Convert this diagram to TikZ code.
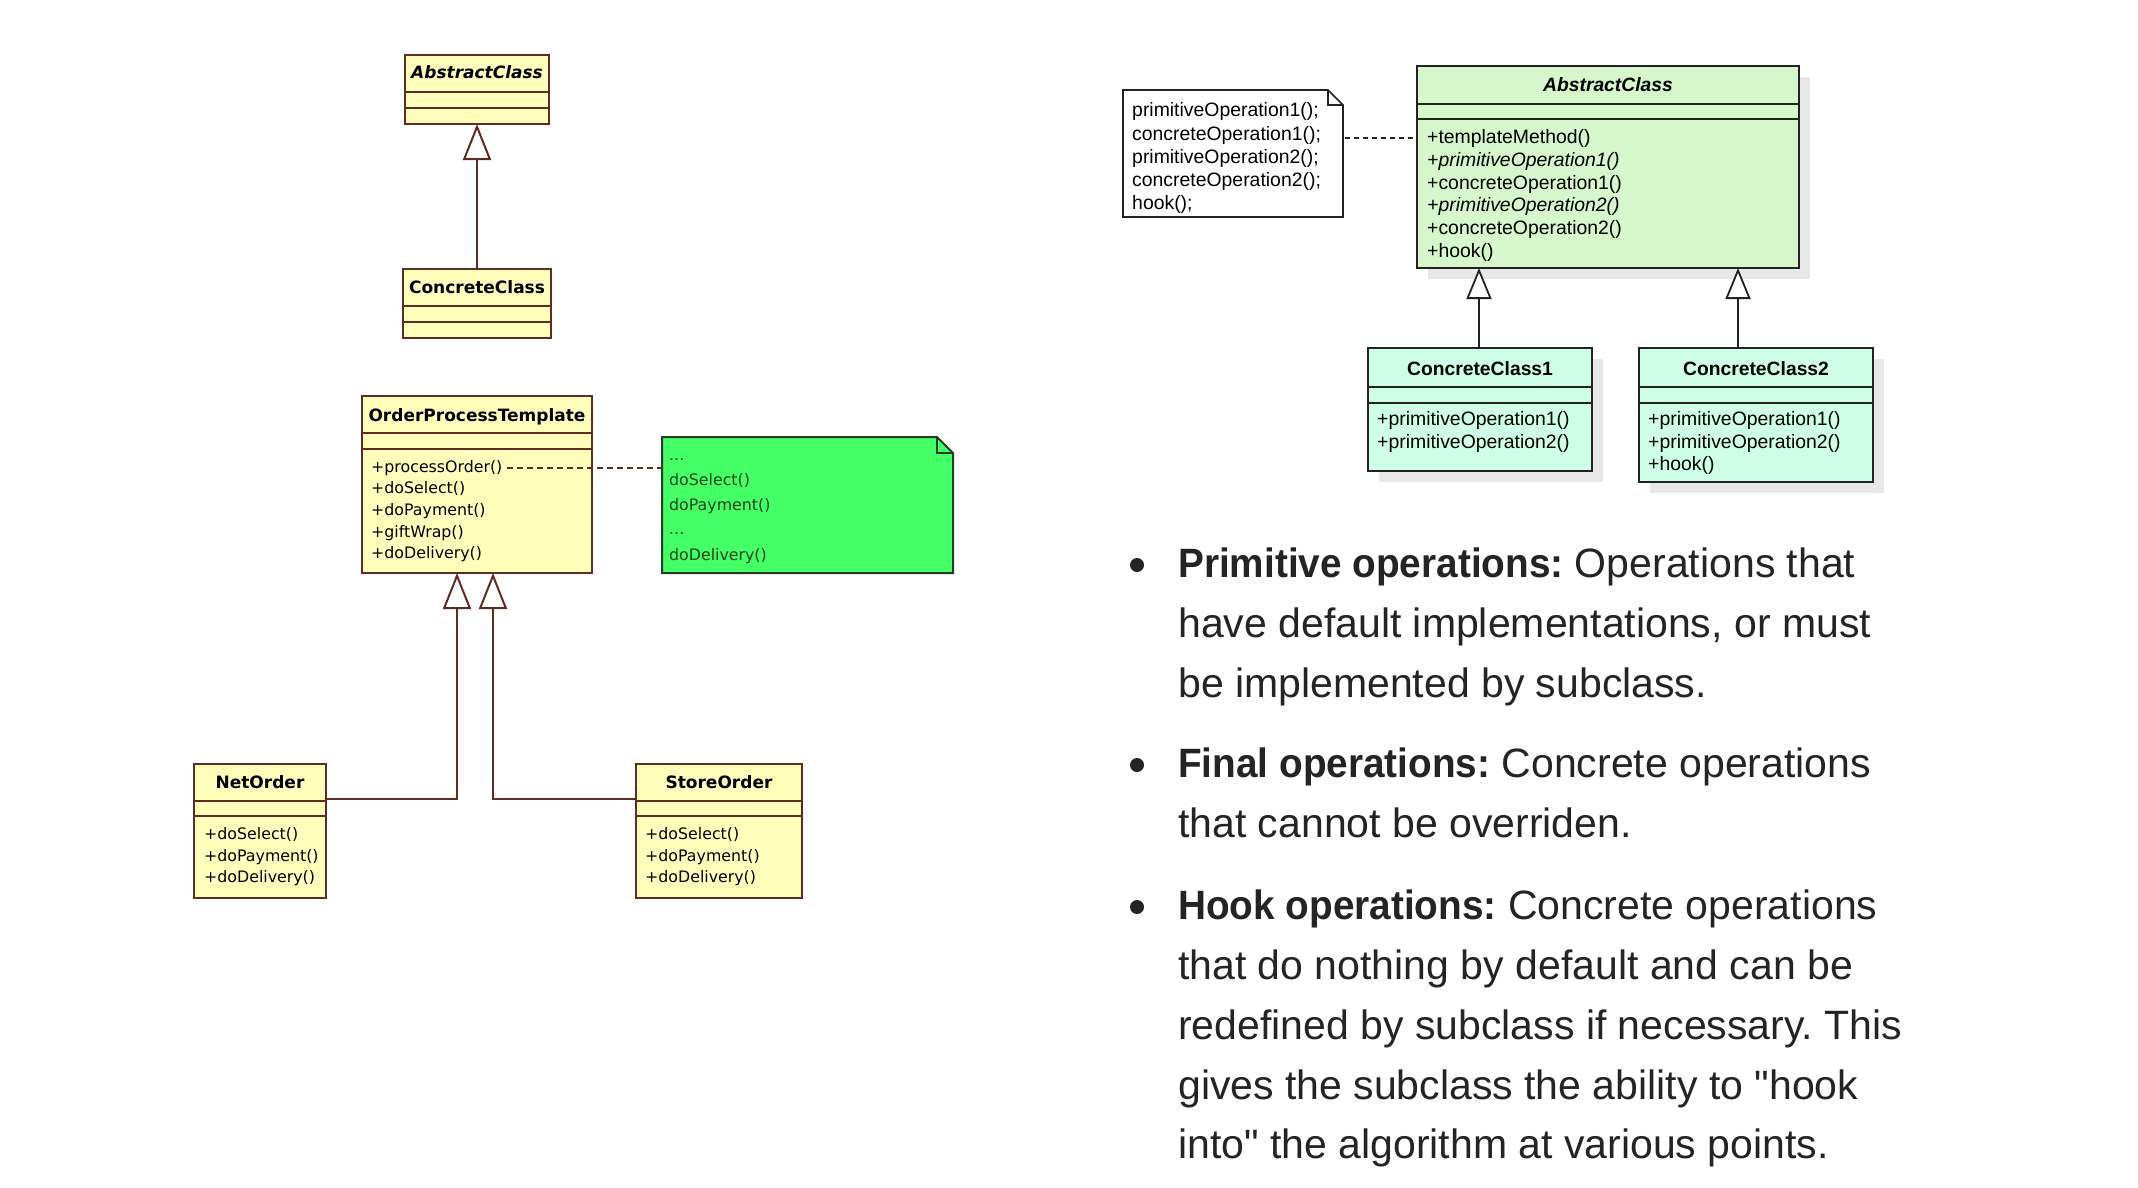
\documentclass[tikz,border=0pt]{standalone}
\usepackage{fontspec}
\usetikzlibrary{arrows.meta,calc,shadows}
\newfontfamily\tah{DejaVu Sans}
\newfontfamily\ari{Liberation Sans}
\newfontfamily\btext[BoldFeatures={FakeStretch=0.945}]{Liberation Sans}
\definecolor{lyel}{RGB}{255,255,187}
\definecolor{lbrd}{RGB}{96,44,36}
\definecolor{ngreen}{RGB}{68,255,102}
\definecolor{ntext}{RGB}{30,70,30}
\definecolor{nbrd}{RGB}{40,60,40}
\definecolor{acfill}{RGB}{214,247,204}
\definecolor{ccfill}{RGB}{206,255,230}
\definecolor{shd}{RGB}{232,232,232}
\definecolor{rbrd}{RGB}{34,34,34}
\definecolor{txt}{RGB}{36,36,36}
\begin{document}
\begin{tikzpicture}[x=1pt,y=-1pt,
  lcls/.style={draw=lbrd, fill=lyel, line width=2.2pt, anchor=north west, inner sep=0pt, outer sep=0pt},
  lsep/.style={draw=lbrd, line width=2pt},
  ltitle/.style={anchor=base, inner sep=0pt, font=\tah\bfseries\fontsize{17}{17}\selectfont, text=black},
  lmeth/.style={anchor=base west, inner sep=0pt, font=\tah\fontsize{15.8}{16}\selectfont, text=black},
  nmeth/.style={anchor=base west, inner sep=0pt, font=\tah\fontsize{15.8}{16}\selectfont, text=ntext},
  inhL/.style={draw=lbrd, line width=2pt, -{Triangle[fill=white, length=36pt, width=28pt, line width=2pt]}},
  dashL/.style={draw=lbrd, line width=1.8pt, dash pattern=on 6pt off 4pt},
  rcls/.style={draw=rbrd, line width=1.8pt, anchor=north west, inner sep=0pt, outer sep=0pt,
     drop shadow={shadow xshift=11pt, shadow yshift=-11pt, fill=shd, opacity=1}},
  rsep/.style={draw=rbrd, line width=1.6pt},
  rtitle/.style={anchor=base, inner sep=0pt, font=\ari\bfseries\fontsize{19.3}{19}\selectfont, text=black},
  rmeth/.style={anchor=base west, inner sep=0pt, font=\ari\fontsize{19.4}{19}\selectfont, text=black},
  inhR/.style={draw=rbrd, line width=1.8pt, -{Triangle[fill=white, length=31pt, width=25pt, line width=1.8pt]}},
  dashR/.style={draw=rbrd, line width=1.6pt, dash pattern=on 5pt off 4pt},
  bul/.style={circle, fill=txt, minimum size=14pt, inner sep=0pt},
  btxt/.style={anchor=base west, inner sep=0pt, font=\btext\fontsize{41}{41}\selectfont\frenchspacing, text=txt}
]
\useasboundingbox (0,0) rectangle (2138,1188);
\fill[white] (0,0) rectangle (2138,1188);

% ---------- left: AbstractClass / ConcreteClass ----------
\node[lcls, minimum width=144pt, minimum height=69pt] (abs) at (405,55) {};
\draw[lsep] ($(abs.north west)+(0,37)$) -- ($(abs.north east)+(0,37)$);
\draw[lsep] ($(abs.north west)+(0,53)$) -- ($(abs.north east)+(0,53)$);
\node[ltitle] (absT) at (477,79) {\itshape AbstractClass};

\node[lcls, minimum width=148pt, minimum height=69pt] (conc) at (403,269) {};
\draw[lsep] ($(conc.north west)+(0,37)$) -- ($(conc.north east)+(0,37)$);
\draw[lsep] ($(conc.north west)+(0,53)$) -- ($(conc.north east)+(0,53)$);
\node[ltitle] (concT) at (477,293) {ConcreteClass};

\draw[inhL] (conc.north) -- (abs.south);

% ---------- left: OrderProcessTemplate ----------
\node[lcls, minimum width=230pt, minimum height=177pt] (opt) at (362,396) {};
\draw[lsep] ($(opt.north west)+(0,37)$) -- ($(opt.north east)+(0,37)$);
\draw[lsep] ($(opt.north west)+(0,53)$) -- ($(opt.north east)+(0,53)$);
\node[ltitle] (optT) at (477,421) {OrderProcessTemplate};
\node[lmeth] (m1) at (371,472) {+processOrder()};
\node[lmeth] (m2) at (371,493) {+doSelect()};
\node[lmeth] (m3) at (371,515) {+doPayment()};
\node[lmeth] (m4) at (371,537) {+giftWrap()};
\node[lmeth] (m5) at (371,558) {+doDelivery()};

% green note
\node[inner sep=0pt, outer sep=0pt, minimum width=291pt, minimum height=136pt, anchor=north west] (note) at (662,437) {};
\filldraw[fill=ngreen, draw=nbrd, line width=2pt, line join=miter]
  (note.north west) -- ($(note.north east)+(-16,0)$) -- ($(note.north east)+(0,16)$)
  -- (note.south east) -- (note.south west) -- cycle;
\draw[nbrd, line width=1.6pt] ($(note.north east)+(-16,0)$) |- ($(note.north east)+(0,16)$);
\node[nmeth] (n1) at (669,460) {...};
\node[nmeth] (n2) at (669,485) {doSelect()};
\node[nmeth] (n3) at (669,510) {doPayment()};
\node[nmeth] (n4) at (669,534) {...};
\node[nmeth] (n5) at (669,560) {doDelivery()};
\draw[dashL] ($(m1.east)+(4,0)$) -- (note.west |- m1.east);

% NetOrder / StoreOrder
\node[lcls, minimum width=132pt, minimum height=134pt] (net) at (194,764) {};
\draw[lsep] ($(net.north west)+(0,37)$) -- ($(net.north east)+(0,37)$);
\draw[lsep] ($(net.north west)+(0,52)$) -- ($(net.north east)+(0,52)$);
\node[ltitle] (netT) at (260,788) {NetOrder};
\node[lmeth] (nm1) at (204,839) {+doSelect()};
\node[lmeth] (nm2) at (204,861) {+doPayment()};
\node[lmeth] (nm3) at (204,882) {+doDelivery()};

\node[lcls, minimum width=166pt, minimum height=134pt] (store) at (636,764) {};
\draw[lsep] ($(store.north west)+(0,37)$) -- ($(store.north east)+(0,37)$);
\draw[lsep] ($(store.north west)+(0,52)$) -- ($(store.north east)+(0,52)$);
\node[ltitle] (storeT) at (719,788) {StoreOrder};
\node[lmeth] (sm1) at (645,839) {+doSelect()};
\node[lmeth] (sm2) at (645,861) {+doPayment()};
\node[lmeth] (sm3) at (645,882) {+doDelivery()};

\coordinate (optA) at ($(opt.south west)+(95,0)$);
\coordinate (optB) at ($(opt.south west)+(131,0)$);
\draw[inhL] ($(net.north east)+(0,35)$) -| (optA);
\draw[inhL] ($(store.north west)+(0,35)$) -| (optB);

% ---------- right: note ----------
\node[inner sep=0pt, outer sep=0pt, minimum width=220pt, minimum height=127pt, anchor=north west] (note2) at (1123,90) {};
\filldraw[fill=white, draw=rbrd, line width=1.6pt, line join=miter]
  (note2.north west) -- ($(note2.north east)+(-15,0)$) -- ($(note2.north east)+(0,15)$)
  -- (note2.south east) -- (note2.south west) -- cycle;
\draw[rbrd, line width=1.4pt] ($(note2.north east)+(-15,0)$) |- ($(note2.north east)+(0,15)$);
\node[rmeth] (q1) at (1132,117) {primitiveOperation1();};
\node[rmeth] (q2) at (1132,140) {concreteOperation1();};
\node[rmeth] (q3) at (1132,163) {primitiveOperation2();};
\node[rmeth] (q4) at (1132,186) {concreteOperation2();};
\node[rmeth] (q5) at (1132,209) {hook();};

% AbstractClass (right)
\node[rcls, fill=acfill, minimum width=382pt, minimum height=202pt] (ac) at (1417,66) {};
\draw[rsep] ($(ac.north west)+(0,38)$) -- ($(ac.north east)+(0,38)$);
\draw[rsep] ($(ac.north west)+(0,53)$) -- ($(ac.north east)+(0,53)$);
\node[rtitle] (acT) at (1608,92) {\itshape AbstractClass};
\node[rmeth] (t1) at (1427,143) {+templateMethod()};
\node[rmeth] (t2) at (1427,166) {\itshape +primitiveOperation1()};
\node[rmeth] (t3) at (1427,189) {+concreteOperation1()};
\node[rmeth] (t4) at (1427,211) {\itshape +primitiveOperation2()};
\node[rmeth] (t5) at (1427,234) {+concreteOperation2()};
\node[rmeth] (t6) at (1427,257) {+hook()};
\draw[dashR] ($(note2.east |- t1.west)+(2,0)$) -- ($(ac.west |- t1.west)+(-2,0)$);

% Concrete classes (right)
\node[rcls, fill=ccfill, minimum width=224pt, minimum height=123pt] (cc1) at (1368,348) {};
\draw[rsep] ($(cc1.north west)+(0,39)$) -- ($(cc1.north east)+(0,39)$);
\draw[rsep] ($(cc1.north west)+(0,55)$) -- ($(cc1.north east)+(0,55)$);
\node[rtitle] (cc1T) at (1480,375) {ConcreteClass1};
\node[rmeth] (c11) at (1377,425) {+primitiveOperation1()};
\node[rmeth] (c12) at (1377,448) {+primitiveOperation2()};

\node[rcls, fill=ccfill, minimum width=234pt, minimum height=134pt] (cc2) at (1639,348) {};
\draw[rsep] ($(cc2.north west)+(0,39)$) -- ($(cc2.north east)+(0,39)$);
\draw[rsep] ($(cc2.north west)+(0,55)$) -- ($(cc2.north east)+(0,55)$);
\node[rtitle] (cc2T) at (1756,375) {ConcreteClass2};
\node[rmeth] (c21) at (1648,425) {+primitiveOperation1()};
\node[rmeth] (c22) at (1648,448) {+primitiveOperation2()};
\node[rmeth] (c23) at (1648,470) {+hook()};

\coordinate (cc1top) at ($(cc1.north west)+(111,0)$);
\coordinate (cc2top) at ($(cc2.north west)+(99,0)$);
\draw[inhR] (cc1top) -- (cc1top |- ac.south);
\draw[inhR] (cc2top) -- (cc2top |- ac.south);

% ---------- bullet text ----------
\node[bul] (b1) at (1137,565) {};
\node[btxt] (p1) at (1178,577) {\bfseries Primitive operations:\mdseries{} Operations that};
\node[btxt] (p2) at (1178,637) {have default implementations, or must};
\node[btxt] (p3) at (1178,697) {be implemented by subclass.};

\node[bul] (b2) at (1137,765) {};
\node[btxt] (f1) at (1178,777) {\bfseries Final operations:\mdseries{} Concrete operations};
\node[btxt] (f2) at (1178,837) {that cannot be overriden.};

\node[bul] (b3) at (1137,907) {};
\node[btxt] (h1) at (1178,919) {\bfseries Hook operations:\mdseries{} Concrete operations};
\node[btxt] (h2) at (1178,979) {that do nothing by default and can be};
\node[btxt] (h3) at (1178,1039) {redefined by subclass if necessary. This};
\node[btxt] (h4) at (1178,1099) {gives the subclass the ability to "hook};
\node[btxt] (h5) at (1178,1158) {into" the algorithm at various points.};
\end{tikzpicture}
\end{document}
